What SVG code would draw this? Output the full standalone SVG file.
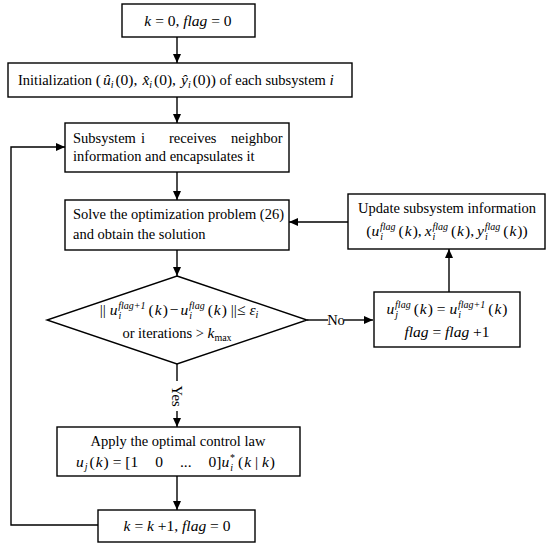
<svg xmlns="http://www.w3.org/2000/svg" width="550" height="546" viewBox="0 0 550 546">
<style>
.box{fill:#fff;stroke:#000;stroke-width:1.4}
.ln{fill:none;stroke:#000;stroke-width:1.4}
.t{font-family:"Liberation Serif","Times New Roman",serif;font-size:14.5px;fill:#000}
.q{font-size:15.5px}
.m{font-style:italic}
.s{font-size:10px}
.c{text-anchor:middle}
</style>
<defs>
<marker id="ah" markerUnits="userSpaceOnUse" markerWidth="10" markerHeight="10" refX="9" refY="5" orient="auto">
<path d="M0,1 L9,5 L0,9 Z" fill="#000"/>
</marker>
</defs>
<rect width="550" height="546" fill="#fff"/>
<g id="connectors">
<line class="ln" x1="177" y1="37" x2="177" y2="63" marker-end="url(#ah)"/>
<line class="ln" x1="177" y1="97" x2="177" y2="123" marker-end="url(#ah)"/>
<line class="ln" x1="177" y1="172" x2="177" y2="200" marker-end="url(#ah)"/>
<line class="ln" x1="177" y1="250" x2="177" y2="276" marker-end="url(#ah)"/>
<line class="ln" x1="177" y1="364" x2="177" y2="381"/>
<line class="ln" x1="177" y1="411" x2="177" y2="427" marker-end="url(#ah)"/>
<line class="ln" x1="177" y1="476" x2="177" y2="510" marker-end="url(#ah)"/>
<polyline class="ln" points="98,525 11,525 11,147 65,147" marker-end="url(#ah)"/>
<line class="ln" x1="307" y1="320" x2="328" y2="320"/>
<line class="ln" x1="344" y1="320" x2="373" y2="320" marker-end="url(#ah)"/>
<line class="ln" x1="449" y1="292" x2="449" y2="249" marker-end="url(#ah)"/>
<line class="ln" x1="348" y1="222" x2="289" y2="222" marker-end="url(#ah)"/>
<text class="t" x="336" y="325" text-anchor="middle">No</text>
<text class="t" transform="translate(177,396) rotate(90)" x="0" y="5" text-anchor="middle">Yes</text>
</g>
<g id="n1">
<rect class="box" x="122" y="4" width="133" height="33"/>
<text class="t q c" x="188" y="26"><tspan class="m">k</tspan> = 0, <tspan class="m">flag</tspan> = 0</text>
</g>
<g id="n2">
<rect class="box" x="8" y="63" width="344" height="34"/>
<text class="t" x="18" y="85">Initialization <tspan class="q">(</tspan><tspan class="q m" dx="2">û</tspan><tspan class="s m" dy="3">i</tspan><tspan class="q" dy="-3" dx="2">(0),</tspan><tspan class="q m" dx="5">x̂</tspan><tspan class="s m" dy="3">i</tspan><tspan class="q" dy="-3" dx="2">(0),</tspan><tspan class="q m" dx="5">ŷ</tspan><tspan class="s m" dy="3">i</tspan><tspan class="q" dy="-3" dx="2">(0))</tspan> of each subsystem <tspan class="q m">i</tspan></text>
</g>
<g id="n3">
<rect class="box" x="65" y="123" width="224" height="49"/>
<text class="t" y="143"><tspan x="73">Subsystem</tspan><tspan x="141">i</tspan><tspan x="169">receives</tspan><tspan x="231">neighbor</tspan></text>
<text class="t" x="73" y="161">information and encapsulates it</text>
</g>
<g id="n4">
<rect class="box" x="65" y="200" width="224" height="50"/>
<text class="t" x="73" y="219">Solve the optimization problem (26)</text>
<text class="t" x="73" y="239">and obtain the solution</text>
</g>
<g id="n5">
<rect class="box" x="348" y="194" width="197" height="55"/>
<text class="t c" x="447" y="213">Update subsystem information</text>
<text class="t q c" x="447" y="236">(<tspan class="m">u</tspan><tspan class="s m" dy="4" dx="1">i</tspan><tspan class="s m" dx="-3" dy="-10">flag</tspan><tspan dy="6" dx="3">(</tspan><tspan class="m" dx="1">k</tspan><tspan dx="1">),</tspan><tspan class="m" dx="3">x</tspan><tspan class="s m" dy="4" dx="1">i</tspan><tspan class="s m" dx="-3" dy="-10">flag</tspan><tspan dy="6" dx="3">(</tspan><tspan class="m" dx="1">k</tspan><tspan dx="1">),</tspan><tspan class="m" dx="3">y</tspan><tspan class="s m" dy="4" dx="1">i</tspan><tspan class="s m" dx="-3" dy="-10">flag</tspan><tspan dy="6" dx="3">(</tspan><tspan class="m" dx="1">k</tspan><tspan dx="1">))</tspan></text>
</g>
<g id="n6">
<polygon class="box" points="177,276 307,320 177,364 47,320"/>
<text class="t q c" x="179" y="315">|| <tspan class="m">u</tspan><tspan class="s m" dy="4" dx="1">i</tspan><tspan class="s m" dx="-3" dy="-10">flag+1</tspan><tspan dy="6" dx="3">(</tspan><tspan class="m" dx="1">k</tspan><tspan dx="1">)</tspan><tspan dx="2">−</tspan><tspan class="m" dx="2">u</tspan><tspan class="s m" dy="4" dx="1">i</tspan><tspan class="s m" dx="-3" dy="-10">flag</tspan><tspan dy="6" dx="3">(</tspan><tspan class="m" dx="1">k</tspan><tspan dx="1">) ||≤</tspan><tspan class="m" dx="4">ε</tspan><tspan class="s m" dy="3">i</tspan></text>
<text class="t c" x="177" y="338">or iterations &gt; <tspan class="q m">k</tspan><tspan class="s" dy="3">max</tspan></text>
</g>
<g id="n7">
<rect class="box" x="374" y="292" width="146" height="55"/>
<text class="t q c" x="447" y="314"><tspan class="m">u</tspan><tspan class="s m" dy="4" dx="1">j</tspan><tspan class="s m" dx="-3" dy="-10">flag</tspan><tspan dy="6" dx="3">(</tspan><tspan class="m" dx="1">k</tspan><tspan dx="1">)</tspan> = <tspan class="m">u</tspan><tspan class="s m" dy="4" dx="1">i</tspan><tspan class="s m" dx="-3" dy="-10">flag+1</tspan><tspan dy="6" dx="3">(</tspan><tspan class="m" dx="1">k</tspan><tspan dx="1">)</tspan></text>
<text class="t q c" x="447" y="337"><tspan class="m">flag</tspan> = <tspan class="m">flag</tspan> +1</text>
</g>
<g id="n8">
<rect class="box" x="57" y="427" width="243" height="49"/>
<text class="t c" x="178" y="446">Apply the optimal control law</text>
<text class="t q" x="76" y="467"><tspan class="m">u</tspan><tspan class="s m" dy="3" dx="1">j</tspan><tspan dy="-3" dx="2">(</tspan><tspan class="m" dx="1">k</tspan><tspan dx="1">) = [1</tspan><tspan dx="17">0</tspan><tspan dx="17">...</tspan><tspan dx="17">0]</tspan><tspan class="m">u</tspan><tspan class="s m" dy="4" dx="1">i</tspan><tspan class="s" dx="-3" dy="-10">*</tspan><tspan dy="6" dx="3">(</tspan><tspan class="m" dx="1">k</tspan> | <tspan class="m">k</tspan><tspan dx="1">)</tspan></text>
</g>
<g id="n9">
<rect class="box" x="98" y="510" width="157" height="32"/>
<text class="t q c" x="177" y="531"><tspan class="m">k</tspan> = <tspan class="m">k</tspan> +1, <tspan class="m">flag</tspan> = 0</text>
</g>
</svg>
